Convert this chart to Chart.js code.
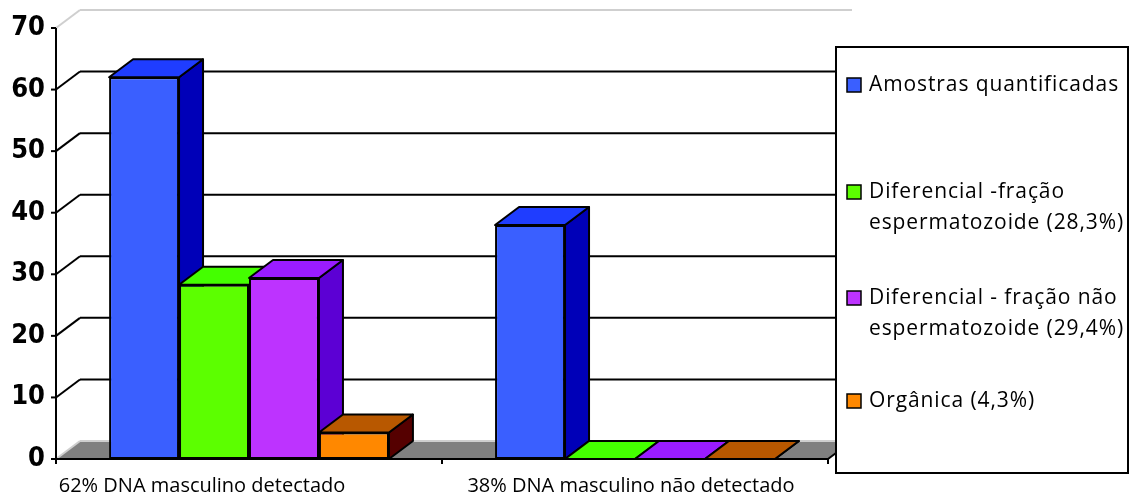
<!DOCTYPE html>
<html>
<head>
<meta charset="utf-8">
<script src="https://cdn.jsdelivr.net/npm/chart.js@4/dist/chart.umd.min.js"></script>
<style>
  html, body { margin: 0; padding: 0; background: #fff; }
</style>
</head>
<body>
<canvas id="dnaChart" width="1138" height="498"></canvas>
<script>
const categories = ['62% DNA masculino detectado', '38% DNA masculino não detectado'];
const seriesLabels = [
    ['Amostras quantificadas'],
    ['Diferencial -fração', 'espermatozoide (28,3%)'],
    ['Diferencial - fração não', 'espermatozoide (29,4%)'],
    ['Orgânica (4,3%)']
];
const amostras = [62, 38];
const fracaoEsperm = [28.3, 0];
const fracaoNaoEsperm = [29.4, 0];
const organica = [4.3, 0];
const yTicks = [0, 10, 20, 30, 40, 50, 60, 70];

// shades for front, top and side faces of each series
const frontColors = ['#3a5fff', '#5cff00', '#bd33ff', '#ff8800'];
const topColors = ['#1f3dff', '#44ff00', '#9a1cff', '#b85800'];
const sideColors = ['#0000b8', '#2ea000', '#5c00d4', '#550000'];

const DX = 24, DY = 18; // depth of the 3d box

function poly(ctx, pts) {
    ctx.beginPath();
    ctx.moveTo(pts[0][0], pts[0][1]);
    for (let k = 1; k < pts.length; k++) ctx.lineTo(pts[k][0], pts[k][1]);
    ctx.closePath();
}

function line(ctx, x1, y1, x2, y2) {
    ctx.beginPath();
    ctx.moveTo(x1, y1);
    ctx.lineTo(x2, y2);
    ctx.stroke();
}

// walls, floor, gridlines and the top/side faces of every bar
const box3d = {
    id: 'box3d',
    beforeDatasetsDraw(chart) {
        const { ctx, chartArea: a, scales: { x, y } } = chart;
        ctx.save();
        ctx.lineCap = 'butt';

        // floor
        ctx.fillStyle = '#808080';
        poly(ctx, [[a.left, a.bottom], [a.right, a.bottom], [a.right + DX, a.bottom - DY], [a.left + DX, a.bottom - DY]]);
        ctx.fill();

        yTicks.forEach(v => {
            const py = y.getPixelForValue(v);
            const edge = (v === yTicks[0] || v === yTicks[yTicks.length - 1]);
            ctx.strokeStyle = edge ? '#cfcfcf' : '#000';
            ctx.lineWidth = 2;
            line(ctx, a.left + DX, py - DY, a.right + DX, py - DY);
            line(ctx, a.left, py, a.left + DX, py - DY);
            ctx.strokeStyle = '#000';
            line(ctx, a.left - 5, py, a.left, py);
        });

        // value axis and floor front edge
        ctx.strokeStyle = '#000';
        ctx.lineWidth = 2;
        line(ctx, a.left, a.top, a.left, a.bottom);
        line(ctx, a.left, a.bottom, a.right, a.bottom);
        line(ctx, a.right, a.bottom, a.right + DX, a.bottom - DY);
        [a.left, (a.left + a.right) / 2, a.right].forEach(px => line(ctx, px, a.bottom, px, a.bottom + 5));

        // bar sides and tops
        ctx.lineJoin = 'round';
        chart.data.datasets.forEach((ds, di) => {
            chart.getDatasetMeta(di).data.forEach(bar => {
                const l = bar.x - bar.width / 2, r = bar.x + bar.width / 2;
                const t = bar.y, b = bar.base;
                ctx.fillStyle = sideColors[di];
                poly(ctx, [[r, t], [r + DX, t - DY], [r + DX, b - DY], [r, b]]);
                ctx.fill(); ctx.stroke();
                ctx.fillStyle = topColors[di];
                poly(ctx, [[l, t], [r, t], [r + DX, t - DY], [l + DX, t - DY]]);
                ctx.fill(); ctx.stroke();
            });
        });
        ctx.restore();
    }
};

// category labels and the boxed legend on the right
const labelsAndLegend = {
    id: 'labelsAndLegend',
    afterDraw(chart, args, opts) {
        const { ctx, scales: { x } } = chart;
        ctx.save();
        ctx.fillStyle = '#000';
        ctx.textBaseline = 'middle';
        ctx.textAlign = 'center';
        ctx.font = '20px "Open Sans"';
        categories.forEach((c, i) => {
            ctx.fillText(c, x.getPixelForValue(i) + opts.labelShift[i], opts.labelY);
        });

        const bx = opts.box;
        ctx.fillStyle = '#fff';
        ctx.fillRect(bx.x, bx.y, bx.w, bx.h);
        ctx.strokeStyle = '#000';
        ctx.lineWidth = 2;
        ctx.strokeRect(bx.x, bx.y, bx.w, bx.h);

        ctx.textAlign = 'left';
        ctx.font = '21px "Open Sans"';
        ctx.letterSpacing = '0.9px';
        seriesLabels.forEach((lines, i) => {
            const yy = opts.itemY[i];
            ctx.fillStyle = frontColors[i];
            ctx.fillRect(bx.x + 11, yy - 7, 14, 14);
            ctx.lineWidth = 1.5;
            ctx.strokeRect(bx.x + 11, yy - 7, 14, 14);
            ctx.fillStyle = '#000';
            lines.forEach((t, k) => ctx.fillText(t, bx.x + 33, yy + k * opts.lineGap));
        });
        ctx.restore();
    }
};

const seriesValues = [amostras, fracaoEsperm, fracaoNaoEsperm, organica];

new Chart(document.getElementById('dnaChart'), {
    type: 'bar',
    data: {
        labels: categories,
        datasets: seriesValues.map((vals, i) => ({
            label: seriesLabels[i].join(' '),
            data: vals,
            backgroundColor: frontColors[i],
            borderColor: '#000',
            borderWidth: 2,
            borderSkipped: false,
            categoryPercentage: 0.725,
            barPercentage: 1
        }))
    },
    options: {
        responsive: false,
        animation: false,
        layout: { padding: { top: 28, right: 310, left: 0, bottom: 0 } },
        plugins: {
            legend: { display: false },
            tooltip: { enabled: false },
            labelsAndLegend: {
                labelShift: [-47, -4],
                labelY: 486,
                box: { x: 836, y: 47, w: 292, h: 426 },
                itemY: [85, 192, 298, 401],
                lineGap: 31
            }
        },
        scales: {
            x: {
                offset: true,
                grid: { display: false, drawTicks: false },
                border: { display: false },
                ticks: { display: false },
                afterFit: s => { s.height = 39; }
            },
            y: {
                min: 0,
                max: 70,
                afterBuildTicks: s => { s.ticks = yTicks.map(v => ({ value: v })); },
                grid: { display: false, drawTicks: false },
                border: { display: false },
                ticks: {
                    padding: 11,
                    color: '#000',
                    font: { family: '"DejaVu Sans Condensed", "DejaVu Sans"', weight: 'bold', size: 27 }
                },
                afterFit: s => { s.width = 56; }
            }
        }
    },
    plugins: [box3d, labelsAndLegend]
});
</script>
</body>
</html>
